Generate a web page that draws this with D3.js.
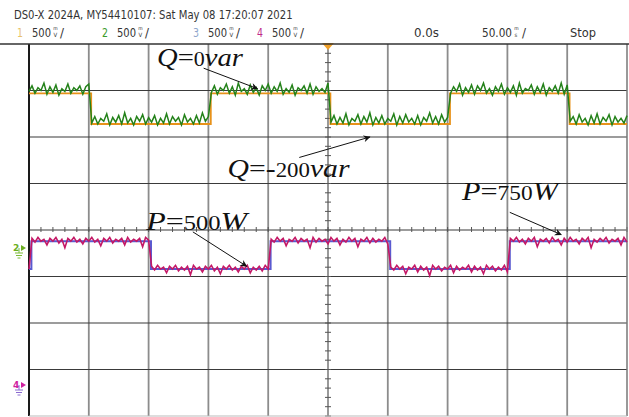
<!DOCTYPE html>
<html>
<head>
<meta charset="utf-8">
<script src="https://cdnjs.cloudflare.com/ajax/libs/d3/7.8.5/d3.min.js"></script>
<style>
  body { margin: 0; background: #fff; }
  svg { display: block; }
  .hdr { font-family: "Liberation Sans Narrow", "DejaVu Sans Condensed", "Arial Narrow", sans-serif; fill: #333; }
  .note { font-family: "Liberation Serif", "DejaVu Serif", serif; fill: #111; }
</style>
</head>
<body>
<div id="scope"></div>
<script>
// ---- DATA ----
// time axis (ms) and volts axis, 50 ms/div and 500 mV/div
var timeTicks = [-250, -200, -150, -100, -50, 0, 50, 100, 150, 200, 250];
var voltTicks = [-2, -1.5, -1, -0.5, 0, 0.5, 1, 1.5, 2];
var sampleStart = -250;
var sampleStep = 2.5;

// channel 1 (orange) and channel 3 (blue) step levels: [time ms, volts]
var ch1Steps = [[-250, 1.47], [-198, 1.14], [-98, 1.47], [2, 1.14], [102, 1.47], [202, 1.14], [250, 1.14]];
var ch3Steps = [[-250, -0.42], [-248, -0.12], [-148, -0.42], [-48, -0.12], [52, -0.42], [152, -0.12], [250, -0.12]];

// channel 2 (green, reactive power Q) samples every 2.5 ms
var ch2Values = [
  1.49,1.55,1.47,1.53,1.50,1.58,1.46,1.54,1.48,1.56,1.45,1.52,1.49,1.57,1.47,1.53,1.50,1.55,1.46,1.54,1.57,
  1.15,1.22,1.14,1.20,1.17,1.25,1.13,1.21,1.16,1.23,1.14,1.26,1.15,1.20,1.13,1.22,1.17,1.24,1.14,1.21,
  1.16,1.23,1.13,1.20,1.15,1.25,1.14,1.22,1.17,1.21,1.13,1.24,1.16,1.20,1.14,1.23,1.15,1.26,1.17,1.22,
  1.48,1.55,1.46,1.53,1.50,1.57,1.47,1.54,1.45,1.58,1.49,1.52,1.46,1.56,1.48,1.53,1.45,1.55,1.50,1.57,
  1.47,1.54,1.49,1.58,1.46,1.52,1.48,1.56,1.45,1.53,1.50,1.55,1.47,1.57,1.46,1.54,1.49,1.52,1.48,1.58,
  1.16,1.23,1.14,1.21,1.15,1.25,1.13,1.20,1.17,1.24,1.14,1.22,1.16,1.26,1.13,1.21,1.15,1.23,1.14,1.20,
  1.17,1.25,1.13,1.22,1.15,1.24,1.16,1.20,1.14,1.23,1.13,1.21,1.17,1.26,1.15,1.22,1.14,1.24,1.16,1.21,
  1.47,1.54,1.49,1.57,1.45,1.53,1.48,1.56,1.46,1.55,1.50,1.58,1.47,1.52,1.45,1.54,1.49,1.57,1.46,1.53,
  1.48,1.55,1.45,1.58,1.47,1.52,1.50,1.56,1.46,1.54,1.48,1.57,1.45,1.53,1.49,1.55,1.47,1.58,1.46,1.56,
  1.17,1.22,1.14,1.24,1.16,1.20,1.13,1.23,1.15,1.25,1.14,1.21,1.17,1.24,1.13,1.22,1.16,1.20,1.15,1.23
];

// channel 4 (magenta, active power P) samples every 2.5 ms
var ch4Values = [
  -0.42,
  -0.09,-0.13,-0.08,-0.12,-0.10,-0.16,-0.09,-0.12,-0.08,-0.14,-0.10,-0.19,-0.09,-0.12,-0.08,-0.13,-0.10,-0.15,-0.09,-0.12,
  -0.08,-0.13,-0.10,-0.17,-0.09,-0.12,-0.08,-0.14,-0.10,-0.12,-0.09,-0.16,-0.08,-0.13,-0.10,-0.12,-0.09,-0.18,-0.08,-0.11,
  -0.39,-0.43,-0.38,-0.42,-0.40,-0.46,-0.39,-0.42,-0.38,-0.44,-0.40,-0.43,-0.39,-0.48,-0.38,-0.42,-0.40,-0.45,-0.39,-0.42,
  -0.38,-0.44,-0.40,-0.47,-0.39,-0.42,-0.38,-0.43,-0.40,-0.45,-0.39,-0.42,-0.38,-0.46,-0.40,-0.43,-0.39,-0.44,-0.38,-0.42,
  -0.10,-0.13,-0.08,-0.12,-0.09,-0.17,-0.10,-0.12,-0.08,-0.14,-0.09,-0.12,-0.10,-0.19,-0.08,-0.13,-0.09,-0.12,-0.10,-0.15,
  -0.08,-0.12,-0.09,-0.16,-0.10,-0.13,-0.08,-0.12,-0.09,-0.18,-0.10,-0.12,-0.08,-0.14,-0.09,-0.13,-0.10,-0.12,-0.08,-0.15,
  -0.40,-0.43,-0.38,-0.42,-0.39,-0.47,-0.40,-0.42,-0.38,-0.45,-0.39,-0.43,-0.40,-0.49,-0.38,-0.42,-0.39,-0.44,-0.40,-0.42,
  -0.38,-0.46,-0.39,-0.43,-0.40,-0.42,-0.38,-0.45,-0.39,-0.43,-0.40,-0.47,-0.38,-0.42,-0.39,-0.44,-0.40,-0.43,-0.38,-0.45,
  -0.09,-0.12,-0.08,-0.13,-0.10,-0.15,-0.09,-0.12,-0.08,-0.18,-0.10,-0.12,-0.09,-0.14,-0.08,-0.12,-0.10,-0.16,-0.09,-0.13,
  -0.08,-0.12,-0.10,-0.15,-0.09,-0.12,-0.08,-0.19,-0.10,-0.13,-0.09,-0.12,-0.08,-0.14,-0.10,-0.12,-0.09,-0.16,-0.08,-0.13
];

// header texts
var headerTitle = "DS0-X 2024A, MY54410107: Sat May 08 17:20:07 2021";
var channelNames = ["1", "2", "3", "4"];
var channelScales = ["500", "500", "500", "500"];
var channelColors = ["#e8c26a", "#3a9a2a", "#8fa6cc", "#c0288a"];
var timeLabel = "0.0s";
var timebaseLabel = "50.00";
var runLabel = "Stop";

// annotations: label parts, text anchor (ms, V), arrow start / end (ms, V)
var notes = [
  { sym: "Q", num: "=0", unit: "var", at: [-143, 1.76], from: [-104, 1.74], to: [-59, 1.52], w: 86 },
  { sym: "Q", num: "=-200", unit: "var", at: [-84, 0.57], from: [-24, 0.78], to: [35, 1.0], w: 122 },
  { sym: "P", num: "=500", unit: "W", at: [-152, 0.0], from: [-113, -0.02], to: [-68, -0.39], w: 101 },
  { sym: "P", num: "=750", unit: "W", at: [112, 0.32], from: [152, 0.19], to: [195, -0.05], w: 96 }
];

// ---- LAYOUT ----
var svgWidth = 629;
var svgHeight = 417;
var margin = { top: 44, right: 2, bottom: 1, left: 29 };
var width = svgWidth - margin.left - margin.right;
var height = svgHeight - margin.top - margin.bottom;

var svg = d3.select("#scope")
  .append("svg")
  .attr("width", svgWidth)
  .attr("height", svgHeight);

svg.append("rect")
  .attr("width", svgWidth)
  .attr("height", svgHeight)
  .attr("fill", "#fff");

var x = d3.scaleLinear().domain([-250, 250]).range([0, width]);
var y = d3.scaleLinear().domain([-2, 2]).range([height, 0]);

var plot = svg.append("g")
  .attr("transform", `translate(${margin.left}, ${margin.top})`);

// ---- GRID ----
plot.append("g").selectAll("line")
  .data(timeTicks.slice(1, -1))
  .enter()
  .append("line")
  .attr("x1", d => x(d))
  .attr("x2", d => x(d))
  .attr("y1", 0)
  .attr("y2", height)
  .attr("stroke", d => d === 0 ? "#555" : "#8c8c8c")
  .attr("stroke-width", d => d === 0 ? 1.2 : 1.8);

plot.append("g").selectAll("line")
  .data(voltTicks.slice(1, -1))
  .enter()
  .append("line")
  .attr("x1", 0)
  .attr("x2", width)
  .attr("y1", d => y(d))
  .attr("y2", d => y(d))
  .attr("stroke", "#3a3a3a")
  .attr("stroke-width", 1.2);

// minor ticks on the centre cross
plot.append("g").selectAll("line")
  .data(x.ticks(50))
  .enter()
  .append("line")
  .attr("x1", d => x(d))
  .attr("x2", d => x(d))
  .attr("y1", y(0) - 3)
  .attr("y2", y(0) + 2)
  .attr("stroke", "#555")
  .attr("stroke-width", 1);

plot.append("g").selectAll("line")
  .data(y.ticks(40))
  .enter()
  .append("line")
  .attr("x1", x(0) - 3)
  .attr("x2", x(0) + 3)
  .attr("y1", d => y(d))
  .attr("y2", d => y(d))
  .attr("stroke", "#555")
  .attr("stroke-width", 1);

// frame
svg.append("line").attr("x1", 0).attr("x2", svgWidth).attr("y1", margin.top).attr("y2", margin.top)
  .attr("stroke", "#333").attr("stroke-width", 1.3);
plot.append("line").attr("x1", 0).attr("x2", 0).attr("y1", 0).attr("y2", height)
  .attr("stroke", "#1a1a1a").attr("stroke-width", 2);
plot.append("line").attr("x1", width).attr("x2", width).attr("y1", 0).attr("y2", height)
  .attr("stroke", "#777").attr("stroke-width", 1.5);
plot.append("line").attr("x1", 0).attr("x2", width).attr("y1", height).attr("y2", height)
  .attr("stroke", "#bbb").attr("stroke-width", 1);

// ---- TRACES ----
var stepLine = d3.line()
  .x(d => x(d[0]))
  .y(d => y(d[1]))
  .curve(d3.curveStepAfter);

var sampleLine = d3.line()
  .x((d, i) => x(sampleStart + i * sampleStep))
  .y(d => y(d));

plot.append("path")
  .attr("d", stepLine(ch1Steps))
  .attr("fill", "none")
  .attr("stroke", "#e8921a")
  .attr("stroke-width", 1.8);

plot.append("path")
  .attr("d", sampleLine(ch2Values))
  .attr("fill", "none")
  .attr("stroke", "#24821a")
  .attr("stroke-width", 1.5);

plot.append("path")
  .attr("d", stepLine(ch3Steps))
  .attr("fill", "none")
  .attr("stroke", "#5a5ad0")
  .attr("stroke-width", 2);

plot.append("path")
  .attr("d", sampleLine(ch4Values))
  .attr("fill", "none")
  .attr("stroke", "#c41866")
  .attr("stroke-width", 1.6);

// trigger marker
plot.append("path")
  .attr("d", `M${x(0) - 6},-1 L${x(0) + 6},-1 L${x(0)},6 Z`)
  .attr("fill", "#f0a028");

// ---- HEADER ----
// narrow text: squeeze horizontally so it fills w pixels
function condensed(parent, tx, ty, str, w, size) {
  var t = parent.append("text")
    .attr("class", "hdr")
    .style("font-size", size + "px")
    .text(str);
  var natural = t.node().getComputedTextLength();
  t.attr("transform", `translate(${tx}, ${ty}) scale(${w / natural}, 1)`);
  return t;
}

// stacked small unit, e.g. "m" over "V"
function stackedUnit(g, ux, top, bottom) {
  g.append("text").attr("class", "hdr").attr("x", ux + 0.3).attr("y", -7.3)
    .style("font-size", "5px").text(top);
  g.append("text").attr("class", "hdr").attr("x", ux + 0.5).attr("y", 0)
    .style("font-size", "6px").text(bottom);
}

condensed(svg, 14, 19, headerTitle, 279, 13);

var chX = [17, 102, 193, 257];
channelNames.forEach(function(name, i) {
  var g = svg.append("g").attr("transform", `translate(${chX[i]}, 37)`);
  condensed(g, 0, 0, name, 6, 13).style("fill", channelColors[i]);
  condensed(g, 15, 0, channelScales[i], 19, 13);
  stackedUnit(g, 36, "m", "V");
  condensed(g, 43, 0, "/", 4, 13);
});

condensed(svg, 414, 37, timeLabel, 25, 13);
var tb = svg.append("g").attr("transform", "translate(482, 37)");
condensed(tb, 0, 0, timebaseLabel, 30, 13);
stackedUnit(tb, 32, "m", "s");
condensed(tb, 40, 0, "/", 4, 13);
condensed(svg, 570, 37, runLabel, 26, 13);

// ---- CHANNEL GROUND MARKERS ----
function groundMarker(cx, cy, label, color, gcolor) {
  var g = svg.append("g").attr("transform", `translate(${cx}, ${cy})`);
  g.append("text").attr("x", -14).attr("y", 3).style("font-size", "9px")
    .style("font-family", "DejaVu Sans, sans-serif").style("font-weight", "bold")
    .style("fill", color).text(label);
  g.append("path").attr("d", "M-6,-3 L-1,0 L-6,3 Z").attr("fill", color);
  g.append("path").attr("d", "M-8,0 L-8,5 M-12,5 L-4,5 M-11,7.5 L-5,7.5 M-9.5,10 L-6.5,10")
    .attr("stroke", gcolor).attr("stroke-width", 1).attr("fill", "none");
}
groundMarker(27, 248, "2", "#6cae22", "#7cba36");
groundMarker(27, 385, "4", "#d020a0", "#8a6ad0");

// ---- ANNOTATIONS ----
svg.append("defs").append("marker")
  .attr("id", "head")
  .attr("viewBox", "0 0 10 10")
  .attr("refX", 9)
  .attr("refY", 5)
  .attr("markerWidth", 9)
  .attr("markerHeight", 7)
  .attr("orient", "auto")
  .append("path")
  .attr("d", "M0,0 L10,5 L0,10 L3,5 Z")
  .attr("fill", "#111");

notes.forEach(function(n) {
  plot.append("line")
    .attr("x1", x(n.from[0]))
    .attr("y1", y(n.from[1]))
    .attr("x2", x(n.to[0]))
    .attr("y2", y(n.to[1]))
    .attr("stroke", "#111")
    .attr("stroke-width", 1)
    .attr("marker-end", "url(#head)");

  var t = plot.append("text")
    .attr("class", "note")
    .attr("x", x(n.at[0]))
    .attr("y", y(n.at[1]))
    .attr("textLength", n.w)
    .attr("lengthAdjust", "spacingAndGlyphs")
    .style("font-size", "26px");
  t.append("tspan").style("font-style", "italic").text(n.sym);
  t.append("tspan").text(n.num[1] === "-" ? "=-" : "=");
  t.append("tspan").style("font-size", "20px").text(n.num.replace("=", "").replace("-", ""));
  t.append("tspan").style("font-style", "italic").text(n.unit);
});
</script>
</body>
</html>
